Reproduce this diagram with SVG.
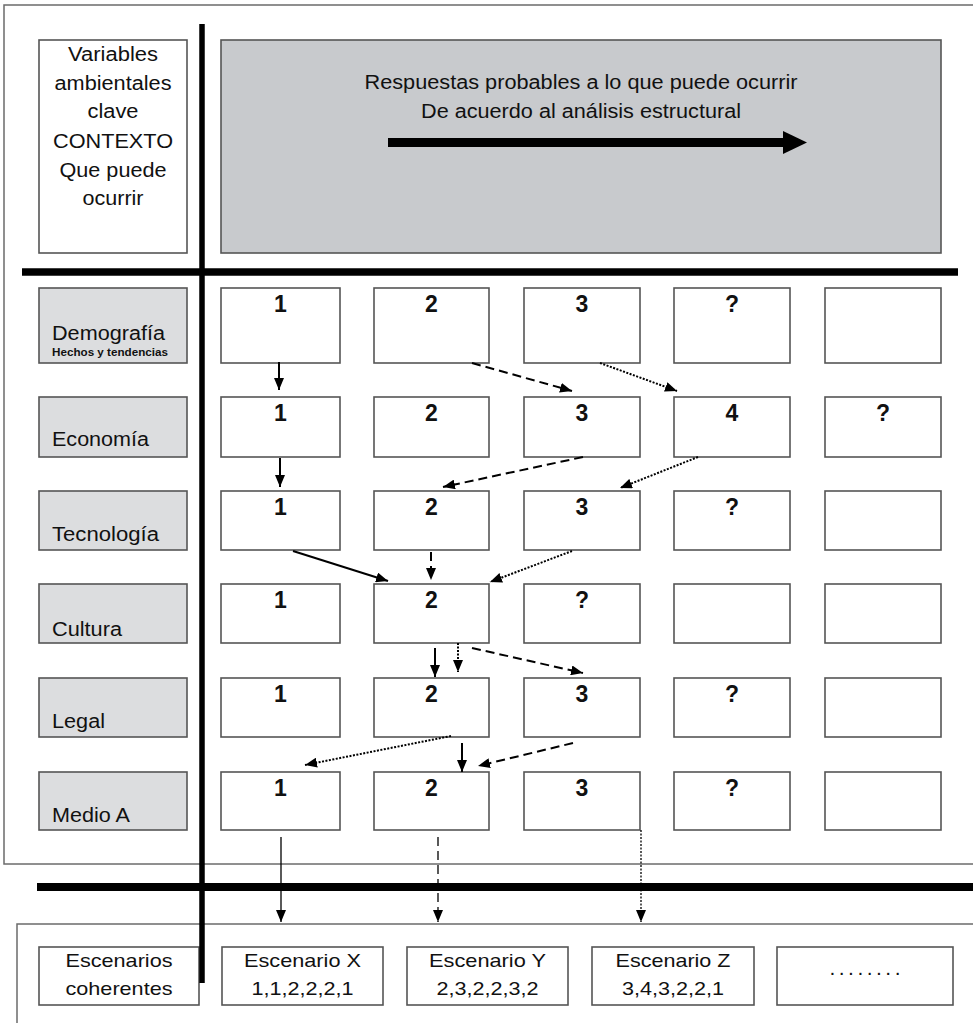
<svg xmlns="http://www.w3.org/2000/svg" width="973" height="1023" viewBox="0 0 973 1023">
<style>
text{font-family:"Liberation Sans",Arial,sans-serif;fill:#111}
.frame{fill:none;stroke:#6b6b6b;stroke-width:1.5}
.box{fill:#fff;stroke:#555;stroke-width:1.6}
.lab{fill:#dcdddf;stroke:#555;stroke-width:1.6}
.hdr{fill:#c8cacd;stroke:#555;stroke-width:1.6}
.t{font-size:20px}
.tc{font-size:20px;text-anchor:middle}
.tb{font-size:19px;text-anchor:middle}
.num{font-size:23px;font-weight:bold;text-anchor:middle}
.small{font-size:11.5px;font-weight:bold}
.thick{stroke:#000;fill:none}
.c{fill:none;stroke:#000;stroke-width:2}
.dash{stroke-dasharray:9 5}
.dot{stroke-dasharray:2 1.5}
.thin{stroke-width:1.3}
</style>
<defs>
<marker id="ah" viewBox="0 0 12 10" refX="12" refY="5" markerWidth="12" markerHeight="10" markerUnits="userSpaceOnUse" orient="auto">
<path d="M0,0 L12,5 L0,10 Z" fill="#000"/>
</marker>
</defs>
<rect width="973" height="1023" fill="#fff"/>
<!-- frames -->
<rect class="frame" x="4" y="5" width="985" height="859"/>
<rect class="frame" x="17" y="924" width="980" height="120"/>
<!-- top-left context box -->
<g id="contexto">
<rect class="box" x="39" y="40" width="148" height="213"/>
<text class="tc" x="113" y="61" textLength="90" lengthAdjust="spacingAndGlyphs">Variables</text>
<text class="tc" x="113" y="90" textLength="117" lengthAdjust="spacingAndGlyphs">ambientales</text>
<text class="tc" x="113" y="118" textLength="51" lengthAdjust="spacingAndGlyphs">clave</text>
<text class="tc" x="113" y="148" textLength="120" lengthAdjust="spacingAndGlyphs">CONTEXTO</text>
<text class="tc" x="113" y="177" textLength="107" lengthAdjust="spacingAndGlyphs">Que puede</text>
<text class="tc" x="113" y="205" textLength="61" lengthAdjust="spacingAndGlyphs">ocurrir</text>
</g>
<!-- header -->
<g id="respuestas">
<rect class="hdr" x="221" y="40" width="720" height="213"/>
<text class="tc" x="581" y="89" textLength="433" lengthAdjust="spacingAndGlyphs">Respuestas probables a lo que puede ocurrir</text>
<text class="tc" x="581" y="118" textLength="320" lengthAdjust="spacingAndGlyphs">De acuerdo al análisis estructural</text>
<rect x="388" y="138" width="396" height="9" fill="#000"/>
<path d="M783,131 L807,142.5 L783,154 Z" fill="#000"/>
</g>
<!-- row labels -->
<g id="lab-demografia"><rect class="lab" x="39" y="288" width="148" height="75"/><text class="t" x="52" y="340" textLength="113" lengthAdjust="spacingAndGlyphs">Demografía</text><text class="small" x="52" y="356" textLength="116" lengthAdjust="spacingAndGlyphs">Hechos y tendencias</text></g>
<g id="lab-economia"><rect class="lab" x="39" y="397" width="148" height="60"/><text class="t" x="52" y="446" textLength="97" lengthAdjust="spacingAndGlyphs">Economía</text></g>
<g id="lab-tecnologia"><rect class="lab" x="39" y="491" width="148" height="59"/><text class="t" x="52" y="541" textLength="107" lengthAdjust="spacingAndGlyphs">Tecnología</text></g>
<g id="lab-cultura"><rect class="lab" x="39" y="584" width="148" height="59"/><text class="t" x="52" y="636" textLength="70" lengthAdjust="spacingAndGlyphs">Cultura</text></g>
<g id="lab-legal"><rect class="lab" x="39" y="678" width="148" height="59"/><text class="t" x="52" y="728" textLength="53" lengthAdjust="spacingAndGlyphs">Legal</text></g>
<g id="lab-medio"><rect class="lab" x="39" y="772" width="148" height="58"/><text class="t" x="52" y="822" textLength="78" lengthAdjust="spacingAndGlyphs">Medio A</text></g>
<!-- row 1 -->
<g id="r1c1"><rect class="box" x="221" y="288" width="119" height="75"/><text class="num" x="280.5" y="312">1</text></g>
<g id="r1c2"><rect class="box" x="374" y="288" width="115" height="75"/><text class="num" x="431.5" y="312">2</text></g>
<g id="r1c3"><rect class="box" x="524" y="288" width="116" height="75"/><text class="num" x="582" y="312">3</text></g>
<g id="r1c4"><rect class="box" x="674" y="288" width="116" height="75"/><text class="num" x="732" y="312">?</text></g>
<g id="r1c5"><rect class="box" x="825" y="288" width="116" height="75"/></g>
<!-- row 2 -->
<g id="r2c1"><rect class="box" x="221" y="397" width="119" height="60"/><text class="num" x="280.5" y="421">1</text></g>
<g id="r2c2"><rect class="box" x="374" y="397" width="115" height="60"/><text class="num" x="431.5" y="421">2</text></g>
<g id="r2c3"><rect class="box" x="524" y="397" width="116" height="60"/><text class="num" x="582" y="421">3</text></g>
<g id="r2c4"><rect class="box" x="674" y="397" width="116" height="60"/><text class="num" x="732" y="421">4</text></g>
<g id="r2c5"><rect class="box" x="825" y="397" width="116" height="60"/><text class="num" x="883" y="421">?</text></g>
<!-- row 3 -->
<g id="r3c1"><rect class="box" x="221" y="491" width="119" height="59"/><text class="num" x="280.5" y="515">1</text></g>
<g id="r3c2"><rect class="box" x="374" y="491" width="115" height="59"/><text class="num" x="431.5" y="515">2</text></g>
<g id="r3c3"><rect class="box" x="524" y="491" width="116" height="59"/><text class="num" x="582" y="515">3</text></g>
<g id="r3c4"><rect class="box" x="674" y="491" width="116" height="59"/><text class="num" x="732" y="515">?</text></g>
<g id="r3c5"><rect class="box" x="825" y="491" width="116" height="59"/></g>
<!-- row 4 -->
<g id="r4c1"><rect class="box" x="221" y="584" width="119" height="59"/><text class="num" x="280.5" y="608">1</text></g>
<g id="r4c2"><rect class="box" x="374" y="584" width="115" height="59"/><text class="num" x="431.5" y="608">2</text></g>
<g id="r4c3"><rect class="box" x="524" y="584" width="116" height="59"/><text class="num" x="582" y="608">?</text></g>
<g id="r4c4"><rect class="box" x="674" y="584" width="116" height="59"/></g>
<g id="r4c5"><rect class="box" x="825" y="584" width="116" height="59"/></g>
<!-- row 5 -->
<g id="r5c1"><rect class="box" x="221" y="678" width="119" height="59"/><text class="num" x="280.5" y="702">1</text></g>
<g id="r5c2"><rect class="box" x="374" y="678" width="115" height="59"/><text class="num" x="431.5" y="702">2</text></g>
<g id="r5c3"><rect class="box" x="524" y="678" width="116" height="59"/><text class="num" x="582" y="702">3</text></g>
<g id="r5c4"><rect class="box" x="674" y="678" width="116" height="59"/><text class="num" x="732" y="702">?</text></g>
<g id="r5c5"><rect class="box" x="825" y="678" width="116" height="59"/></g>
<!-- row 6 -->
<g id="r6c1"><rect class="box" x="221" y="772" width="119" height="58"/><text class="num" x="280.5" y="796">1</text></g>
<g id="r6c2"><rect class="box" x="374" y="772" width="115" height="58"/><text class="num" x="431.5" y="796">2</text></g>
<g id="r6c3"><rect class="box" x="524" y="772" width="116" height="58"/><text class="num" x="582" y="796">3</text></g>
<g id="r6c4"><rect class="box" x="674" y="772" width="116" height="58"/><text class="num" x="732" y="796">?</text></g>
<g id="r6c5"><rect class="box" x="825" y="772" width="116" height="58"/></g>
<!-- bottom scenario boxes -->
<g id="esc-coherentes"><rect class="box" x="39" y="947" width="160" height="58"/><text class="tb" x="119" y="967" textLength="107" lengthAdjust="spacingAndGlyphs">Escenarios</text><text class="tb" x="119" y="995" textLength="107" lengthAdjust="spacingAndGlyphs">coherentes</text></g>
<g id="esc-x"><rect class="box" x="222" y="947" width="161" height="58"/><text class="tb" x="302.5" y="967" textLength="117" lengthAdjust="spacingAndGlyphs">Escenario X</text><text class="tb" x="302.5" y="995" textLength="102" lengthAdjust="spacingAndGlyphs">1,1,2,2,2,1</text></g>
<g id="esc-y"><rect class="box" x="407" y="947" width="161" height="58"/><text class="tb" x="487.5" y="967" textLength="117" lengthAdjust="spacingAndGlyphs">Escenario Y</text><text class="tb" x="487.5" y="995" textLength="102" lengthAdjust="spacingAndGlyphs">2,3,2,2,3,2</text></g>
<g id="esc-z"><rect class="box" x="592" y="947" width="162" height="58"/><text class="tb" x="673" y="967" textLength="115" lengthAdjust="spacingAndGlyphs">Escenario Z</text><text class="tb" x="673" y="995" textLength="102" lengthAdjust="spacingAndGlyphs">3,4,3,2,2,1</text></g>
<g id="esc-more"><rect class="box" x="777" y="947" width="176" height="58"/><text class="tb" x="865" y="975" textLength="71" lengthAdjust="spacing" style="font-size:21px">........</text></g>
<!-- thick dividers -->
<g id="dividers">
<line class="thick" x1="22" y1="272" x2="958" y2="272" stroke-width="7.5"/>
<line class="thick" x1="37" y1="887" x2="973" y2="887" stroke-width="8"/>
<line class="thick" x1="202" y1="24" x2="202" y2="983" stroke-width="5.5"/>
</g>
<!-- connectors -->
<g id="connectors">
<line class="c" x1="279" y1="362" x2="279" y2="390" marker-end="url(#ah)"/>
<line class="c dash" x1="472" y1="363" x2="572" y2="391" marker-end="url(#ah)"/>
<line class="c dot" x1="600" y1="363" x2="677" y2="391" marker-end="url(#ah)"/>
<line class="c" x1="280" y1="458" x2="280" y2="487" marker-end="url(#ah)"/>
<line class="c dash" x1="583" y1="457" x2="443" y2="487" marker-end="url(#ah)"/>
<line class="c dot" x1="698" y1="457" x2="620" y2="488" marker-end="url(#ah)"/>
<line class="c" x1="293" y1="551" x2="388" y2="581" marker-end="url(#ah)"/>
<line class="c dash" x1="431" y1="552" x2="431" y2="580" marker-end="url(#ah)"/>
<line class="c dot" x1="572" y1="551" x2="490" y2="582" marker-end="url(#ah)"/>
<line class="c" x1="435" y1="648" x2="435" y2="677" marker-end="url(#ah)"/>
<line class="c dot" x1="458" y1="643" x2="458" y2="672" marker-end="url(#ah)"/>
<line class="c dash" x1="472" y1="648" x2="583" y2="673" marker-end="url(#ah)"/>
<line class="c dot" x1="451" y1="736" x2="305" y2="765" marker-end="url(#ah)"/>
<line class="c" x1="462" y1="743" x2="462" y2="772" marker-end="url(#ah)"/>
<line class="c dash" x1="573" y1="743" x2="478" y2="766" marker-end="url(#ah)"/>
<line class="c thin" x1="281" y1="837" x2="281" y2="922" marker-end="url(#ah)"/>
<line class="c thin dash" x1="438" y1="837" x2="438" y2="922" marker-end="url(#ah)"/>
<line class="c thin dot" x1="641" y1="830" x2="641" y2="922" marker-end="url(#ah)"/>
</g>
</svg>
